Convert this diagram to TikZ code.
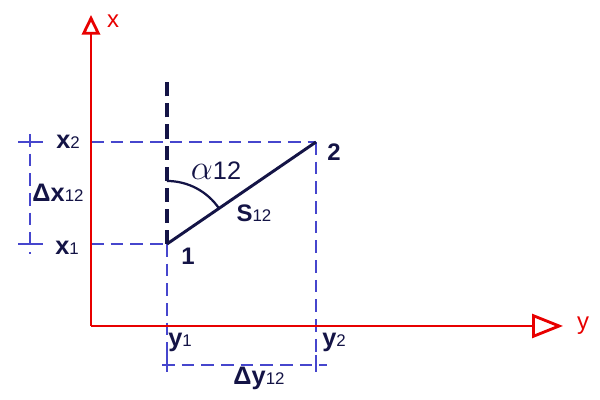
\documentclass[tikz,border=0pt]{standalone}
\usepackage{fontspec}
\setmainfont{Liberation Sans}
\usetikzlibrary{calc,angles,arrows.meta}
\definecolor{axisred}{RGB}{232,0,0}
\definecolor{gridblue}{RGB}{70,70,205}
\definecolor{navy}{RGB}{20,20,70}
\tikzset{
  axis/.style={axisred, line width=2pt},
  helpline/.style={gridblue, line width=0.8pt, dash pattern=on 9pt off 5pt},
  dimline/.style={gridblue, line width=0.8pt},
  lbl/.style={navy, font=\fontsize{18}{18}\selectfont\bfseries, inner sep=0pt}
}
\newcommand{\idx}[1]{{\fontsize{12}{12}\selectfont\mdseries #1}}

\begin{document}
\begin{tikzpicture}[x=0.025cm,y=0.025cm]
                \useasboundingbox (0,0) rectangle (600,400);
                \coordinate (O) at (91,74);
                \coordinate (X) at (91,385);
                \coordinate (Y) at (563,74);
                \coordinate (P1) at (167,156);
                \coordinate (P2) at (316,258);
                \coordinate (N) at (167,320);
                \coordinate (A1) at (91,156);
                \coordinate (A2) at (91,258);
                \coordinate (B1) at (167,28);
                \coordinate (B2) at (316,28);

                % projections
                \draw[helpline] (A2) -- (P2);
                \draw[helpline] (A1) -- (P1);
                \draw[helpline] (P1) -- (B1);
                \draw[helpline] (P2) -- (B2);

                % dimension lines
                \draw[helpline] (30,266) -- (30,146);
                \draw[dimline] (18,258) -- (43,258);
                \draw[dimline] (18,156) -- (43,156);
                \draw[helpline] (162,35) -- (327,35);
                \draw[dimline] (167,45) -- (167,28);
                \draw[dimline] (316,45) -- (316,28);

                % axes
                \draw[axis, -{Triangle[open, length=14pt, width=13pt]}] (O) -- (X);
                \draw[axis, -{Triangle[open, length=22pt, width=17pt]}] (O) -- (Y);
                \node[axisred, font=\fontsize{17}{17}\selectfont, inner sep=0pt] (xl) at (113,379) {x};
                \node[axisred, font=\fontsize{17}{17}\selectfont, inner sep=0pt] (yl) at (583,74) {y};

                % north and side
                \draw[navy, line width=2.4pt, dash pattern=on 10pt off 5pt] (P1) -- (N);
                \draw[navy, line width=2.1pt] (P1) -- (P2);
                \pic[draw=navy, line width=1.6pt, angle radius=1.575cm] {angle = P2--P1--N};

                \node[lbl, font=\fontsize{17}{17}\selectfont\bfseries] (t1) at (188,144) {1};
                \node[lbl, font=\fontsize{17}{17}\selectfont\bfseries] (t2) at (334,248) {2};
                \node[lbl, font=\fontsize{24}{24}\selectfont] (alpha) at (216,229) {$\alpha$\fontsize{18}{18}\selectfont 12};
                \node[lbl, font=\fontsize{17}{17}\selectfont\bfseries] (s12) at (254,187) {S\idx{12}};
                \node[lbl] (x2) at (68,258) {x\idx{2}};
                \node[lbl] (x1) at (67,152) {x\idx{1}};
                \node[lbl] (dx) at (58,207) {Δx\idx{12}};
                \node[lbl] (y1) at (180,58) {y\idx{1}};
                \node[lbl] (y2) at (334,58) {y\idx{2}};
                \node[lbl] (dy) at (259,22) {Δy\idx{12}};
            \end{tikzpicture}
\end{document}
